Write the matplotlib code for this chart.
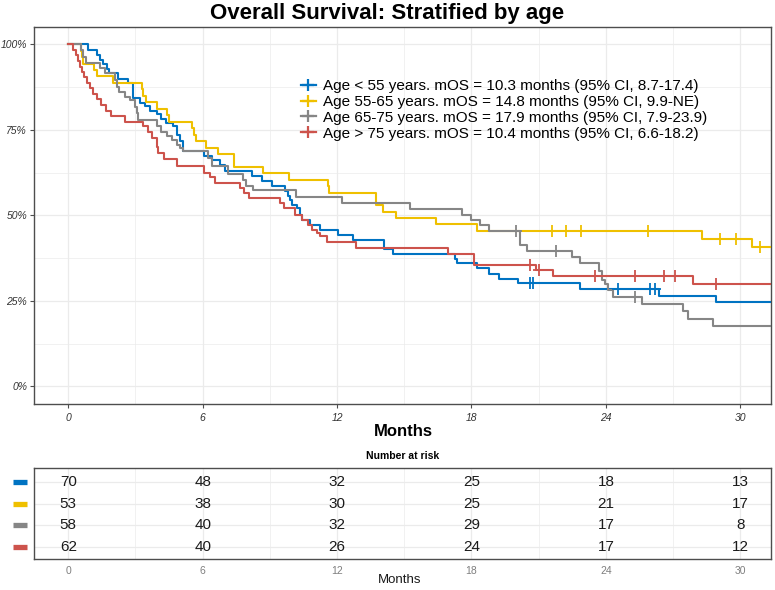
import matplotlib
matplotlib.use('Agg')
import matplotlib.pyplot as plt
from matplotlib.lines import Line2D

plt.rcParams['font.family'] = ['Liberation Sans', 'DejaVu Sans']

# ---------------- data ----------------
group_labels = [
    "Age < 55 years. mOS = 10.3 months (95% CI, 8.7-17.4)",
    "Age 55-65 years. mOS = 14.8 months (95% CI, 9.9-NE)",
    "Age 65-75 years. mOS = 17.9 months (95% CI, 7.9-23.9)",
    "Age > 75 years. mOS = 10.4 months (95% CI, 6.6-18.2)",
]
colors = ['#0073C2', '#EFC000', '#868686', '#CD534C']
follow_up_end = 31.6

blue_t = [0, 0.89, 1.29, 1.41, 1.56, 1.71, 1.83, 2.23, 2.67, 2.90, 3.19, 3.42, 3.64, 3.94,
          4.16, 4.38, 4.68, 4.86, 4.98, 5.10, 6.06, 6.40, 6.76, 6.99, 8.19, 8.63, 9.08, 9.67,
          9.80, 9.90, 9.97, 10.20, 10.34, 10.45, 10.79, 11.24, 12.05, 12.70, 14.10, 14.50,
          17.26, 17.37, 18.23, 18.77, 19.22, 20.09, 22.84, 26.37, 28.90]
blue_s = [1.0, 0.983, 0.968, 0.953, 0.942, 0.929, 0.915, 0.900, 0.887, 0.842, 0.829, 0.819,
          0.806, 0.796, 0.781, 0.771, 0.761, 0.735, 0.716, 0.687, 0.673, 0.662, 0.648, 0.631,
          0.615, 0.601, 0.587, 0.570, 0.556, 0.546, 0.531, 0.522, 0.502, 0.487, 0.473, 0.457,
          0.444, 0.429, 0.402, 0.388, 0.372, 0.360, 0.347, 0.330, 0.315, 0.301, 0.285, 0.265,
          0.247]
blue_cens_t = [20.6, 20.75, 24.55, 25.97, 26.2]
blue_cens_s = [0.301, 0.301, 0.285, 0.285, 0.285]

yellow_t = [0, 0.59, 0.63, 0.67, 1.14, 1.29, 1.98, 3.27, 3.34, 3.46, 3.94, 4.41, 4.50, 5.54,
            5.62, 5.69, 6.17, 6.69, 7.38, 8.70, 9.87, 11.60, 11.65, 13.75, 14.06, 14.65,
            16.43, 18.23, 28.30, 30.50]
yellow_s = [1.0, 0.981, 0.962, 0.943, 0.925, 0.906, 0.887, 0.868, 0.849, 0.830, 0.811, 0.792,
            0.774, 0.755, 0.736, 0.717, 0.698, 0.679, 0.642, 0.623, 0.604, 0.585, 0.566,
            0.529, 0.511, 0.492, 0.474, 0.455, 0.431, 0.407]
yellow_cens_t = [21.6, 22.2, 22.9, 25.9, 29.1, 29.8, 30.9]
yellow_cens_s = [0.455, 0.455, 0.455, 0.455, 0.431, 0.431, 0.407]

gray_t = [0, 0.57, 0.67, 0.79, 1.41, 1.64, 2.08, 2.19, 2.28, 2.53, 2.75, 2.98, 3.05, 3.13,
          3.94, 4.12, 4.39, 4.61, 4.84, 4.99, 5.10, 6.25, 6.40, 7.14, 7.81, 7.95, 8.26, 10.17,
          12.22, 15.25, 17.56, 18.00, 18.38, 18.80, 20.18, 20.50, 22.47, 22.84, 23.70, 23.82,
          23.96, 24.10, 24.32, 25.60, 27.43, 27.68, 28.80]
gray_s = [1.0, 0.983, 0.964, 0.945, 0.930, 0.915, 0.896, 0.876, 0.862, 0.847, 0.836, 0.818,
          0.799, 0.779, 0.760, 0.745, 0.731, 0.721, 0.706, 0.696, 0.687, 0.667, 0.643, 0.621,
          0.604, 0.587, 0.574, 0.555, 0.536, 0.518, 0.502, 0.487, 0.471, 0.453, 0.414, 0.397,
          0.379, 0.361, 0.337, 0.312, 0.298, 0.283, 0.262, 0.242, 0.220, 0.198, 0.176]
gray_cens_t = [20.0, 21.75, 25.3]
gray_cens_s = [0.453, 0.397, 0.262]

red_t = [0, 0.22, 0.33, 0.42, 0.52, 0.60, 0.70, 0.82, 0.97, 1.12, 1.29, 1.44, 1.68, 1.90,
         2.53, 3.35, 3.57, 3.72, 3.94, 4.02, 4.27, 4.84, 6.06, 6.32, 6.55, 7.67, 7.83, 8.05,
         9.45, 9.61, 10.12, 10.42, 10.72, 10.87, 11.09, 11.24, 11.54, 12.84, 16.97, 18.11,
         20.90, 21.65, 27.90]
red_s = [1.0, 0.984, 0.968, 0.952, 0.935, 0.919, 0.903, 0.887, 0.871, 0.855, 0.839, 0.823,
         0.806, 0.790, 0.774, 0.760, 0.745, 0.726, 0.701, 0.682, 0.664, 0.645, 0.624, 0.611,
         0.596, 0.580, 0.566, 0.551, 0.536, 0.522, 0.502, 0.487, 0.473, 0.458, 0.448, 0.439,
         0.421, 0.405, 0.387, 0.356, 0.339, 0.322, 0.298]
red_cens_t = [20.6, 21.03, 23.5, 25.3, 26.6, 27.1, 28.9]
red_cens_s = [0.356, 0.339, 0.322, 0.322, 0.322, 0.322, 0.298]

risk_times = [0, 6, 12, 18, 24, 30]
risk_blue = [70, 48, 32, 25, 18, 13]
risk_yellow = [53, 38, 30, 25, 21, 17]
risk_gray = [58, 40, 32, 29, 17, 8]
risk_red = [62, 40, 26, 24, 17, 12]

x_ticks = [0, 6, 12, 18, 24, 30]
y_ticks = [0, 0.25, 0.5, 0.75, 1.0]
y_tick_labels = ['0%', '25%', '50%', '75%', '100%']

curves = [(blue_t, blue_s, blue_cens_t, blue_cens_s),
          (yellow_t, yellow_s, yellow_cens_t, yellow_cens_s),
          (gray_t, gray_s, gray_cens_t, gray_cens_s),
          (red_t, red_s, red_cens_t, red_cens_s)]
risks = [risk_blue, risk_yellow, risk_gray, risk_red]

# ---------------- figure ----------------
W, H = 775, 590
fig = plt.figure(figsize=(W / 100, H / 100), dpi=100)
xlim = (-1.53, 31.37)
grid_c = '#EBEBEB'
frame_c = '#4D4D4D'

ax = fig.add_axes([34 / W, 1 - 403.5 / H, 737 / W, 376.3 / H])
ax.set_xlim(*xlim)
ax.set_ylim(-0.05, 1.05)
for (t, s, ct, cs), col in zip(curves, colors):
    ax.step(list(t) + [follow_up_end], list(s) + [s[-1]], where='post', color=col, lw=1.5,
            zorder=3)
    ax.plot(ct, cs, ls='none', marker='+', ms=8, mew=1.3, color=col, zorder=4)

ax.set_xticks(x_ticks)
ax.set_xticks([3, 9, 15, 21, 27], minor=True)
ax.set_yticks(y_ticks)
ax.set_yticklabels(y_tick_labels)
ax.set_yticks([0.125, 0.375, 0.625, 0.875], minor=True)
ax.grid(True, which='major', color=grid_c, lw=0.9, zorder=0)
ax.grid(True, which='minor', color=grid_c, lw=0.5, zorder=0)
ax.tick_params(axis='both', which='major', length=3, width=0.8, color=frame_c,
               labelsize=7.5, labelcolor='#333333', pad=2)
ax.tick_params(axis='x', which='major', pad=4)
ax.tick_params(axis='both', which='minor', length=0)
for lab in ax.get_xticklabels() + ax.get_yticklabels():
    lab.set_fontstyle('italic')
for sp in ax.spines.values():
    sp.set_color(frame_c)
    sp.set_linewidth(1.0)
ax.set_axisbelow(True)

handles = [Line2D([0], [0], color=c, lw=1.6, marker='+', ms=8, mew=1.6) for c in colors]
leg = ax.legend(handles, group_labels, loc='upper left', bbox_to_anchor=(0.362, 0.862),
                frameon=False, fontsize=11, handlelength=1.0, handletextpad=0.45,
                labelspacing=0.12, borderaxespad=0, borderpad=0)

fig.text(0.5, 1 - 13 / H, 'Overall Survival: Stratified by age', ha='center', va='center',
         fontsize=16, fontweight='bold')
fig.text(403 / W, 1 - 432 / H, 'Months', ha='center', va='center', fontsize=12,
         fontweight='bold')
fig.text(403 / W, 1 - 456 / H, 'Number at risk', ha='center', va='center', fontsize=7.5,
         fontweight='bold')

# ---------------- risk table ----------------
axr = fig.add_axes([34 / W, 1 - 559 / H, 737 / W, 91 / H])
axr.set_xlim(*xlim)
axr.set_ylim(0.45, 4.65)
n_rows = len(risks)
for i, (vals, col) in enumerate(zip(risks, colors)):
    row_y = n_rows - i
    for tt, v in zip(risk_times, vals):
        axr.text(tt, row_y, str(v), ha='center', va='center', fontsize=11, color='#1A1A1A')
    axr.plot([-0.029, -0.009], [row_y, row_y], transform=axr.get_yaxis_transform(),
             color=col, lw=3.8, solid_capstyle='butt', clip_on=False)
axr.set_xticks(x_ticks)
axr.set_xticks([3, 9, 15, 21, 27], minor=True)
axr.set_yticks([1, 2, 3, 4])
axr.set_yticklabels([])
axr.grid(True, which='major', color=grid_c, lw=0.9, zorder=0)
axr.grid(True, which='minor', axis='x', color=grid_c, lw=0.5, zorder=0)
axr.tick_params(axis='y', length=0)
axr.tick_params(axis='x', which='major', length=0, labelsize=7.5, labelcolor='#7F7F7F', pad=5)
axr.tick_params(axis='x', which='minor', length=0)
for sp in axr.spines.values():
    sp.set_color(frame_c)
    sp.set_linewidth(1.0)
fig.text(400 / W, 1 - 580 / H, 'Months', ha='center', va='center', fontsize=9.5,
         color='#1A1A1A')

fig.savefig('out.png', dpi=100, facecolor='white')
